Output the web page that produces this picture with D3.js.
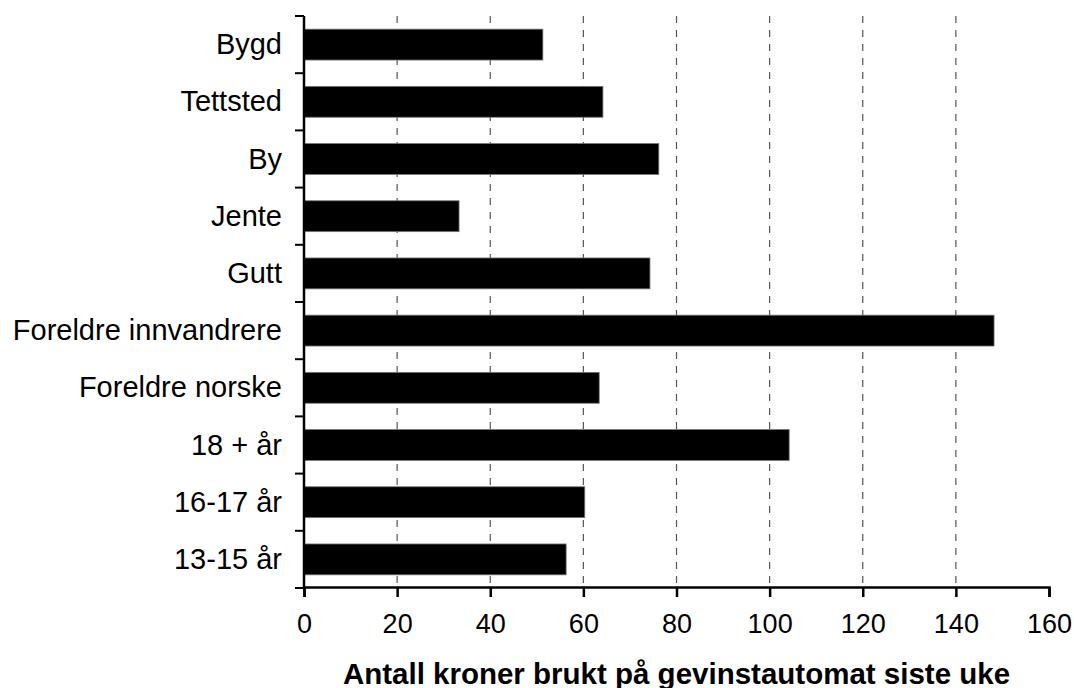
<!DOCTYPE html>
<html>
<head>
<meta charset="utf-8">
<script src="https://cdn.jsdelivr.net/npm/d3@7"></script>
<style>
  body { margin: 0; background: #fff; }
  text { font-family: "Liberation Sans", Arial, sans-serif; fill: #000; }
</style>
</head>
<body>
<script>
var w = 1074;
var h = 688;

// data
var categories = ["Bygd", "Tettsted", "By", "Jente", "Gutt", "Foreldre innvandrere",
                  "Foreldre norske", "18 + år", "16-17 år", "13-15 år"];
var values = [51.3, 64.2, 76.2, 33.3, 74.3, 148.2, 63.4, 104.2, 60.3, 56.3];
var xTicks = [0, 20, 40, 60, 80, 100, 120, 140, 160];
var xTitle = "Antall kroner brukt på gevinstautomat siste uke";

var svg = d3.select("body").append("svg")
            .attr("width", w)
            .attr("height", h);

var x = d3.scaleLinear().domain([0, 160]).range([304, 1049]);
var y = d3.scaleBand().domain(categories).range([16, 588])
          .paddingInner(0.46).paddingOuter(0.23);

// dashed gridlines
svg.selectAll(".grid")
   .data(xTicks.slice(1, -1))
   .enter().append("line")
   .attr("x1", function(d) { return x(d); })
   .attr("x2", function(d) { return x(d); })
   .attr("y1", 16)
   .attr("y2", 587)
   .attr("stroke", "#555")
   .attr("stroke-width", 1.2)
   .attr("stroke-dasharray", "7,7");

// bars
svg.selectAll(".bar")
   .data(values)
   .enter().append("rect")
   .attr("x", x(0))
   .attr("y", function(d, i) { return y(categories[i]); })
   .attr("width", function(d) { return x(d) - x(0); })
   .attr("height", y.bandwidth())
   .attr("fill", "#000")
   .attr("stroke", "#777")
   .attr("stroke-width", 0.8);

// x axis
var xAxis = svg.append("g")
               .attr("transform", "translate(0,587)")
               .call(d3.axisBottom(x).tickValues(xTicks).tickSize(10).tickPadding(17));
xAxis.select(".domain").attr("stroke-width", 2.5);
xAxis.selectAll(".tick line").attr("stroke-width", 2.5);
xAxis.selectAll(".tick text")
     .style("font-family", "Liberation Sans, Arial, sans-serif")
     .style("font-size", "27px")
     .attr("fill", "#000");

// y axis: ticks on band edges
var edges = categories.map(function(c) { return y(c) - y.step() * y.paddingInner() / 2; });
edges.push(588);
svg.append("line")
   .attr("x1", 304).attr("x2", 304)
   .attr("y1", 16).attr("y2", 588)
   .attr("stroke", "#000").attr("stroke-width", 2.5);
svg.selectAll(".ytick")
   .data(edges)
   .enter().append("line")
   .attr("x1", 295).attr("x2", 304)
   .attr("y1", function(d) { return d; })
   .attr("y2", function(d) { return d; })
   .attr("stroke", "#000").attr("stroke-width", 2);

// category labels
svg.selectAll(".ylabel")
   .data(categories)
   .enter().append("text")
   .attr("x", 282)
   .attr("y", function(d) { return y(d) + y.bandwidth() / 2; })
   .attr("dy", "0.33em")
   .attr("text-anchor", "end")
   .style("font-size", "29px")
   .text(function(d) { return d; });

// axis title
svg.append("text")
   .attr("x", (x(0) + x(160)) / 2)
   .attr("y", 684)
   .attr("text-anchor", "middle")
   .style("font-size", "29.5px")
   .style("font-weight", "bold")
   .text(xTitle);
</script>
</body>
</html>
